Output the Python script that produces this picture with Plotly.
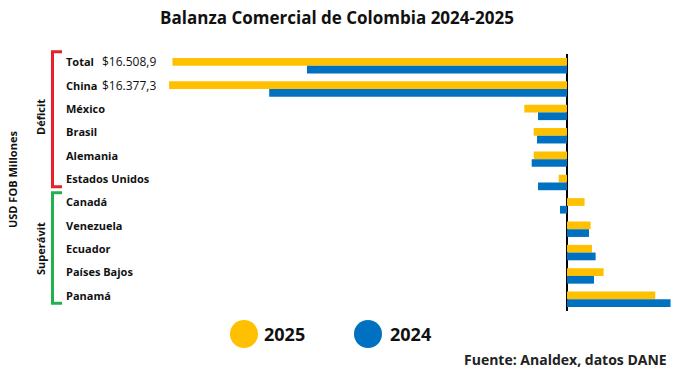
import plotly.graph_objects as go

categories = ["Total", "China", "México", "Brasil", "Alemania", "Estados Unidos",
              "Canadá", "Venezuela", "Ecuador", "Países Bajos", "Panamá"]
values_2025 = [-16508.9, -16650, -1785, -1393, -1393, -348, 736, 988, 1045, 1531, 3692]
values_2024 = [-10880, -12460, -1212, -1254, -1477, -1212, -293, 920, 1197, 1129, 4333]
value_labels = {"Total": "$16.508,9", "China": "$16.377,3"}
series_names = ["2025", "2024"]
series_colors = ["#FFC000", "#0070C0"]

W, H = 682, 378
L, R, T, B = 160, 10, 54, 67
PW, PH = W - L - R, H - T - B

def px(x):
    return (x - L) / PW

def py(y):
    return (H - B - y) / PH

FONT = "Open Sans"
ypos = list(range(len(categories)))

fig = go.Figure()
for name, vals, col in zip(series_names, [values_2025, values_2024], series_colors):
    fig.add_trace(go.Bar(y=ypos, x=vals, orientation="h", name=name,
                         marker=dict(color=col, line=dict(width=0)), showlegend=False))

annotations = []
for i, c in enumerate(categories):
    annotations.append(dict(x=px(64), xref="paper", y=i, yref="y", yshift=4, text="<b>%s</b>" % c,
                            showarrow=False, xanchor="left", yanchor="middle",
                            font=dict(family=FONT, size=11, color="#111")))
    if c in value_labels:
        annotations.append(dict(x=px(100), xref="paper", y=i, yref="y", yshift=4, text=value_labels[c],
                                showarrow=False, xanchor="left", yanchor="middle",
                                font=dict(family=FONT, size=12, color="#111")))

annotations += [
    dict(x=px(12), y=py(180), xref="paper", yref="paper", text="<b>USD FOB Millones</b>", textangle=-90,
         xanchor="center", yanchor="middle",
         showarrow=False, font=dict(family=FONT, size=11, color="#111")),
    dict(x=px(40), y=py(117), xref="paper", yref="paper", text="<b>Déficit</b>", textangle=-90,
         xanchor="center", yanchor="middle",
         showarrow=False, font=dict(family=FONT, size=11, color="#111")),
    dict(x=px(40), y=py(249), xref="paper", yref="paper", text="<b>Superávit</b>", textangle=-90,
         xanchor="center", yanchor="middle",
         showarrow=False, font=dict(family=FONT, size=11, color="#111")),
    dict(x=px(262), y=py(334), xref="paper", yref="paper", text="<b>2025</b>", xanchor="left",
         yanchor="middle", showarrow=False, font=dict(family=FONT, size=18, color="#111")),
    dict(x=px(388), y=py(334), xref="paper", yref="paper", text="<b>2024</b>", xanchor="left",
         yanchor="middle", showarrow=False, font=dict(family=FONT, size=18, color="#111")),
    dict(x=px(669), y=py(359), xref="paper", yref="paper", text="<b>Fuente: Analdex, datos DANE</b>",
         xanchor="right", yanchor="middle", showarrow=False, font=dict(family=FONT, size=14, color="#222")),
]

shapes = []
for col, top, bot in [("#E8202A", 51.7, 186.7), ("#22B14C", 192.7, 303.3)]:
    path = "M %f %f L %f %f L %f %f L %f %f" % (px(62), py(top), px(52.5), py(top),
                                                px(52.5), py(bot), px(62), py(bot))
    shapes.append(dict(type="path", xref="paper", yref="paper", path=path,
                       line=dict(color=col, width=3)))
for cx, col in [(244, "#FFC000"), (368, "#0070C0")]:
    r = 14
    shapes.append(dict(type="circle", xref="paper", yref="paper",
                       x0=px(cx - r), x1=px(cx + r), y0=py(334 + r), y1=py(334 - r),
                       fillcolor=col, line=dict(width=0)))

xmin = -(567 - L) / 23.9 * 1000
xmax = (W - R - 567) / 23.9 * 1000

fig.update_layout(
    width=W, height=H, margin=dict(l=L, r=R, t=T, b=B),
    paper_bgcolor="white", plot_bgcolor="white",
    barmode="group", bargap=0.34, bargroupgap=0,
    title=dict(text="<b>Balanza Comercial de Colombia 2024-2025</b>", x=337 / W, xanchor="center",
               y=1 - 18 / H, yanchor="middle", font=dict(family=FONT, size=17, color="#111")),
    xaxis=dict(range=[xmin, xmax], showgrid=False, showticklabels=False, ticks="",
               zeroline=True, zerolinecolor="#000", zerolinewidth=2, showline=False),
    yaxis=dict(range=[len(categories) - 0.5, -0.5], showgrid=False, showticklabels=False,
               ticks="", zeroline=False, showline=False),
    annotations=annotations, shapes=shapes,
)

fig.write_html("out.html", config={"displayModeBar": False},
               post_script="document.body.style.margin='0px';")
